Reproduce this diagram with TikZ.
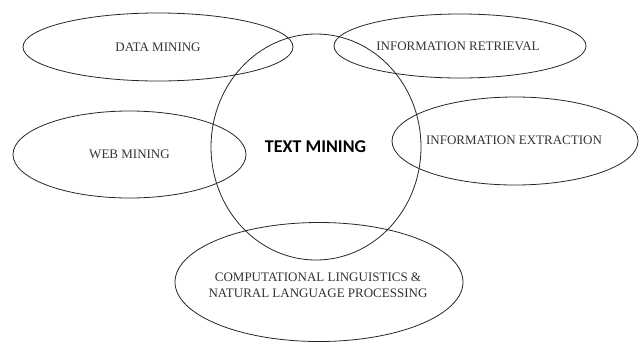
\documentclass[tikz,border=0pt]{standalone}
\usepackage{fontspec}
\setmainfont{Liberation Serif}
\newfontfamily\calib{Carlito}
\usetikzlibrary{shapes.geometric}
\begin{document}
\begin{tikzpicture}[x=1pt,y=-1pt,
  oval/.style={draw=black!85, line width=0.8pt, ellipse, inner sep=0pt},
  lbl/.style={align=center, font=\fontsize{13}{16}\selectfont, text=black!80, inner sep=0pt},
]
\useasboundingbox (0,0) rectangle (639,343);
\node[oval, minimum width=270, minimum height=68] (dm) at (158,47) {};
\node[oval, minimum width=252, minimum height=64] (ir) at (460,46) {};
\node[oval, minimum width=233, minimum height=87] (wm) at (129.5,154.5) {};
\node[oval, minimum width=246, minimum height=88] (ie) at (515,141) {};
\node[oval, minimum width=288, minimum height=119] (cl) at (319,282) {};
\node[oval, minimum width=210, minimum height=226] (tm) at (316,147) {};
\node[lbl] (dmt) at (dm.center) {DATA MINING};
\node[lbl] (irt) at (458,46) {INFORMATION RETRIEVAL};
\node[lbl] (wmt) at (wm.center) {WEB MINING};
\node[lbl] (iet) at (514,140) {INFORMATION EXTRACTION};
\node[lbl, font=\fontsize{13}{16}\selectfont] (clt) at (318,285) {COMPUTATIONAL LINGUISTICS \&\\NATURAL LANGUAGE PROCESSING};
\node[font=\calib\bfseries\fontsize{18}{22}\selectfont, text=black, inner sep=0pt] (tmt) at (315.5,147) {TEXT MINING};
\end{tikzpicture}
\end{document}
